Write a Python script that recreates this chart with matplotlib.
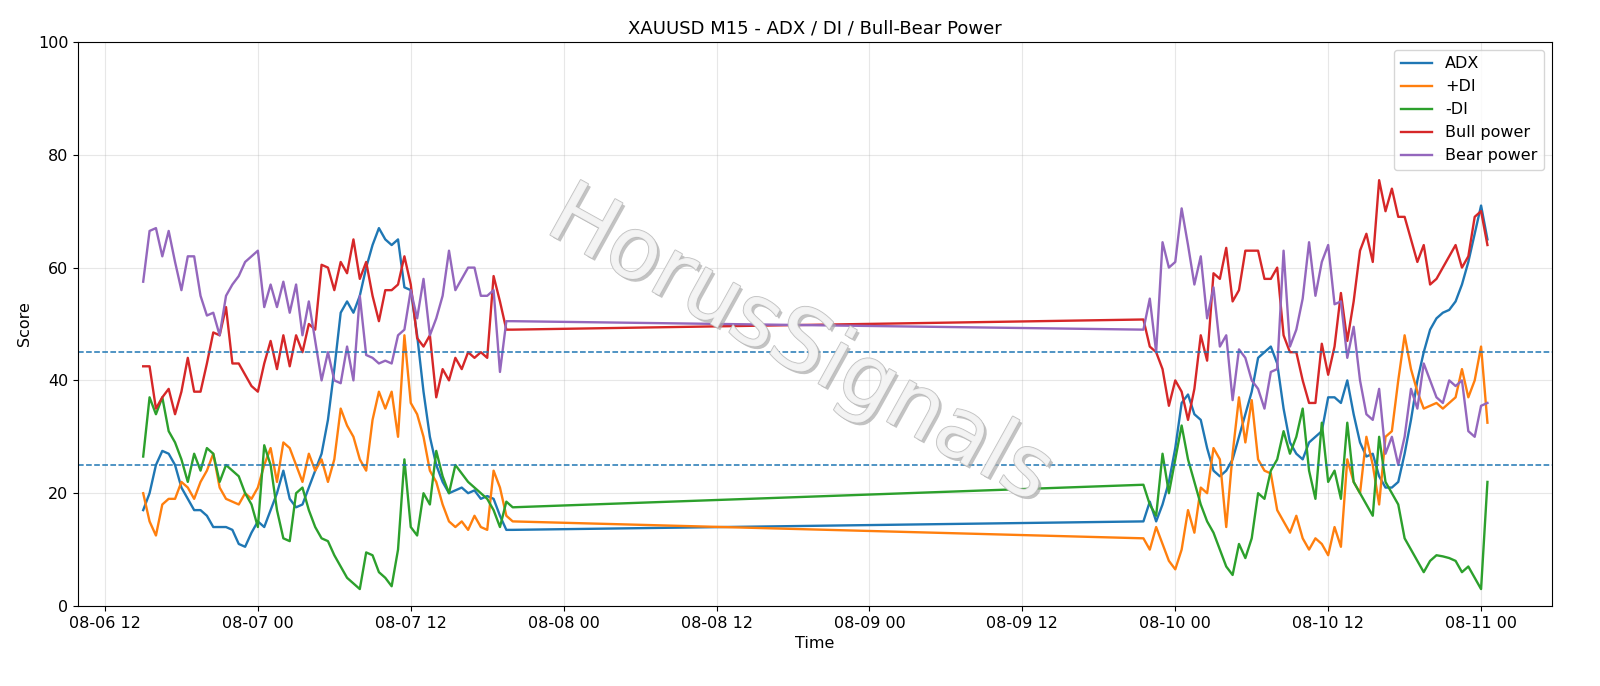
import matplotlib
matplotlib.use("Agg")
import matplotlib.pyplot as plt
import matplotlib.dates as mdates
import matplotlib.patheffects as pe
import pandas as pd

plt.rcParams["font.size"] = 11.5

seg1_start = "2025-08-06 15:00"
seg2_start = "2025-08-09 21:30"

adx1 = [17,20,25,27.5,27,25,21,19,17,17,
        16,14,14,14,13.5,11,10.5,13,15,14,
        17,20,24,19,17.5,18,21,24,27,33,
        42,52,54,52,55,60,64,67,65,64,
        65,56.5,56,48,38,30,25,22,20,20.5,
        21,20,20.5,19,19.5,19,16,13.5,13.5]
pdi1 = [20,15,12.5,18,19,19,22,21,19,22,
        24,27,21,19,18.5,18,20,19,21,25,
        28,22,29,28,25,22,27,24,26,22,
        26,35,32,30,26,24,33,38,35,38,
        30,48,36,34,30,24,22,18,15,14,
        15,13.5,16,14,13.5,24,21,16,15]
mdi1 = [26.5,37,34,37,31,29,26,22,27,24,
        28,27,22,25,24,23,20,18,14,28.5,
        25,17,12,11.5,20,21,17,14,12,11.5,
        9,7,5,4,3,9.5,9,6,5,3.5,
        10,26,14,12.5,20,18,27.5,23,20,25,
        23.5,22,21,20,19,17,14,18.5,17.5]
bull1 = [42.5,42.5,35,37,38.5,34,38,44,38,38,
         43,48.5,48,53,43,43,41,39,38,43,
         47,42,48,42.5,48,45,50,49,60.5,60,
         56,61,59,65,58,61,55,50.5,56,56,
         57,62,57,47.5,46,48,37,42,40,44,
         42,45,44,45,44,58.5,54,49,49]
bear1 = [57.5,66.5,67,62,66.5,61,56,62,62,55,
         51.5,52,48,55,57,58.5,61,62,63,53,
         57,53,57.5,52,57,48,54,47,40,45,
         40,39.5,46,40,55,44.5,44,43,43.5,43,
         48,49,56,51,58,48,51,55,63,56,
         58,60,60,55,55,56,41.5,50.5,50.5]

adx2 = [15,18.5,15,18,22,28,36,37.5,34,33,
        28,24,23,24,26,30,34,38,44,45,
        46,43,35,29,27,26,29,30,31,37,
        37,36,40,34,29,26.5,27,23,21,21,
        22,27,33,40,45,49,51,52,52.5,54,
        57,61,66,71,65]
pdi2 = [12,10,14,11,8,6.5,10,17,13,21,
        20,28,26,14,27,37,29,36.5,26,24,
        23.5,17,15,13,16,12,10,12,11,9,
        14,10.5,26,22,20,30,25,18,30,31,
        40,48,42,38,35,35.5,36,35,36,37,
        42,37,40,46,32.5]
mdi2 = [21.5,18,16,27,20,26,32,26,22,18,
        15,13,10,7,5.5,11,8.5,12,20,19,
        24,26,31,27,30,35,24,19,32.5,22,
        24,19,32.5,22,20,18,16,30,22,20,
        18,12,10,8,6,8,9,8.8,8.5,8,
        6,7,5,3,22]
bull2 = [50.8,46,45,42,35.5,40,38,33,38.5,48,
         43.5,59,58,63.5,54,56,63,63,63,58,
         58,60,48,45,45,40,36,36,46.5,41,
         46,55.5,47,54,63,66,61,75.5,70,74,
         69,69,65,61,64,57,58,60,62,64,
         60,62,69,70,64]
bear2 = [49,54.5,45,64.5,60,61,70.5,64,57,62,
         51,56.5,46,48,36.5,45.5,44,40,38.5,35,
         41.5,42,63,46,49,54.5,64.5,55,61,64,
         53.5,54,44,49.5,40,34,33,38.5,27,30,
         25,30,38.5,35,43,40,37,36,40,39,
         40,31,30,35.5,36]

t1 = pd.date_range(seg1_start, periods=len(adx1), freq="30min")
t2 = pd.date_range(seg2_start, periods=len(adx2), freq="30min")
t = t1.append(t2)

series = [("ADX", adx1 + adx2), ("+DI", pdi1 + pdi2), ("-DI", mdi1 + mdi2),
          ("Bull power", bull1 + bull2), ("Bear power", bear1 + bear2)]
colors = ["#1f77b4", "#ff7f0e", "#2ca02c", "#d62728", "#9467bd"]

fig = plt.figure(figsize=(16, 6.86), dpi=100)
ax = fig.add_axes([78/1600, 1-606/686, (1552-78)/1600, 564/686])
for (name, v), c in zip(series, colors):
    ax.plot(t, v, color=c, lw=1.7, label=name)
ax.axhline(45, ls="--", color="#1f77b4", lw=1.1)
ax.axhline(25, ls="--", color="#1f77b4", lw=1.1)
ax.set_ylim(0, 100)
ax.set_xlim(pd.Timestamp("2025-08-06 09:53"), pd.Timestamp("2025-08-11 05:34"))
ax.xaxis.set_major_locator(mdates.HourLocator(byhour=[0, 12]))
ax.xaxis.set_major_formatter(mdates.DateFormatter("%m-%d %H"))
ax.grid(True, alpha=0.3)
ax.set_title("XAUUSD M15 - ADX / DI / Bull-Bear Power", fontsize=13)
ax.set_xlabel("Time")
ax.set_ylabel("Score")
ax.legend(loc="upper right")
ax.text(0.49, 0.46, "HorusSignals", transform=ax.transAxes, fontsize=62,
        color="#f4f4f4", alpha=0.9, rotation=-29, ha="center", va="center",
        path_effects=[pe.withSimplePatchShadow(offset=(2, -2), shadow_rgbFace="#aaaaaa", alpha=0.7),
                      pe.withStroke(linewidth=1.2, foreground="#bbbbbb")], zorder=5)
fig.savefig("out.png", dpi=100)
